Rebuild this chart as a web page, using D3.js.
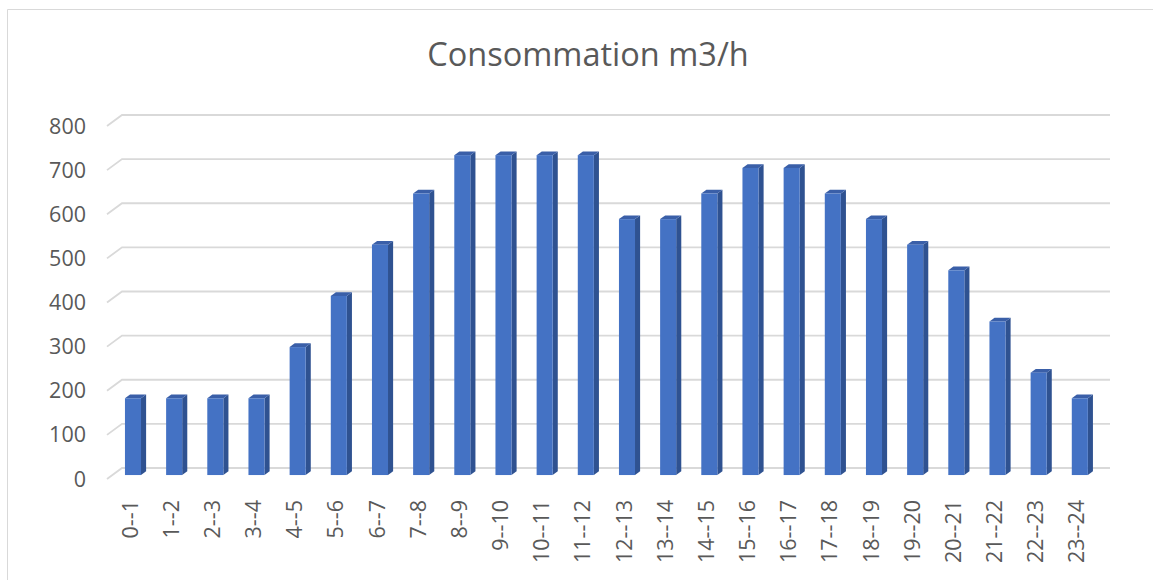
<!DOCTYPE html>
<html>
<head>
<meta charset="utf-8">
<script src="https://cdn.jsdelivr.net/npm/d3@7"></script>
<style>
  html, body { margin: 0; padding: 0; background: #ffffff; }
  svg { display: block; }
  text { font-family: "Open Sans", "Noto Sans", sans-serif; fill: #595959; }
</style>
</head>
<body>
<svg id="chart" width="1153" height="580"></svg>
<script>
// Hourly consumption (m3/h), one value per hour slot
const categories = ["0--1", "1--2", "2--3", "3--4", "4--5", "5--6", "6--7", "7--8",
  "8--9", "9--10", "10--11", "11--12", "12--13", "13--14", "14--15", "15--16",
  "16--17", "17--18", "18--19", "19--20", "20--21", "21--22", "22--23", "23--24"];
const values = [174, 174, 174, 174, 290, 406, 522, 638, 725, 725, 725, 725,
  580, 580, 638, 696, 696, 638, 580, 522, 464, 348, 232, 174];
const yTicks = [0, 100, 200, 300, 400, 500, 600, 700, 800];
const title = "Consommation m3/h";

const svg = d3.select("#chart");

// Outer chart frame (left and top edges)
svg.append("path")
  .attr("d", "M7.5,580 L7.5,9.5 L1153,9.5")
  .attr("fill", "none")
  .attr("stroke", "#d9d9d9")
  .attr("stroke-width", 1);

// Back wall scales
const x = d3.scaleBand().domain(categories).range([122, 1110]);
const y = d3.scaleLinear().domain([0, 800]).range([468, 115]);

// Oblique depth projection: offset of the front of the floor from the back wall
const depth = { dx: -15, dy: 11 };
const at = f => ({ dx: depth.dx * f, dy: depth.dy * f });
const barFront = at(0.64);
const barBack = at(0.30);

// Gridlines on back wall with short diagonal on the side wall
const grid = svg.append("g");
grid.selectAll("path")
  .data(yTicks)
  .join("path")
  .attr("d", v => `M${x.range()[0] + depth.dx},${y(v) + depth.dy} L${x.range()[0]},${y(v)} L${x.range()[1]},${y(v)}`)
  .attr("fill", "none")
  .attr("stroke", "#d9d9d9")
  .attr("stroke-width", 1.8);

// Y axis labels
svg.append("g").selectAll("text")
  .data(yTicks)
  .join("text")
  .attr("x", 86)
  .attr("y", v => y(v) + depth.dy)
  .attr("dy", "0.35em")
  .attr("text-anchor", "end")
  .style("font-size", "21.5px")
  .text(d => d);

// 3D columns
const barW = x.bandwidth() * 0.39;
const bars = svg.append("g").selectAll("g")
  .data(categories.map((c, i) => ({ c, v: values[i] })))
  .join("g");

function frontBox(d) {
  const x0 = x(d.c) + x.bandwidth() / 2 - barW / 2 + barFront.dx;
  const x1 = x0 + barW;
  const yTop = y(d.v) + barFront.dy;
  const yBot = y(0) + barFront.dy;
  const ox = barBack.dx - barFront.dx;
  const oy = barBack.dy - barFront.dy;
  return { x0, x1, yTop, yBot, ox, oy };
}

// side face
bars.append("path")
  .attr("d", d => {
    const b = frontBox(d);
    return `M${b.x1},${b.yBot} L${b.x1 + b.ox},${b.yBot + b.oy} L${b.x1 + b.ox},${b.yTop + b.oy} L${b.x1},${b.yTop} Z`;
  })
  .attr("fill", "#2f5291");

// top face
bars.append("path")
  .attr("d", d => {
    const b = frontBox(d);
    return `M${b.x0},${b.yTop} L${b.x1},${b.yTop} L${b.x1 + b.ox},${b.yTop + b.oy} L${b.x0 + b.ox},${b.yTop + b.oy} Z`;
  })
  .attr("fill", "#3a5fa8");

// front face
bars.append("rect")
  .attr("x", d => frontBox(d).x0)
  .attr("y", d => frontBox(d).yTop)
  .attr("width", barW)
  .attr("height", d => frontBox(d).yBot - frontBox(d).yTop)
  .attr("fill", "#4472c4");

// Category labels, rotated
svg.append("g").selectAll("text")
  .data(categories)
  .join("text")
  .attr("transform", c => `translate(${x(c) + x.bandwidth() / 2 + barFront.dx - 3},500) rotate(-90)`)
  .attr("dy", "0.35em")
  .attr("text-anchor", "end")
  .style("font-size", "21.5px")
  .text(c => c);

// Title
svg.append("text")
  .attr("x", 588)
  .attr("y", 66)
  .attr("text-anchor", "middle")
  .style("font-size", "32.5px")
  .text(title);
</script>
</body>
</html>
